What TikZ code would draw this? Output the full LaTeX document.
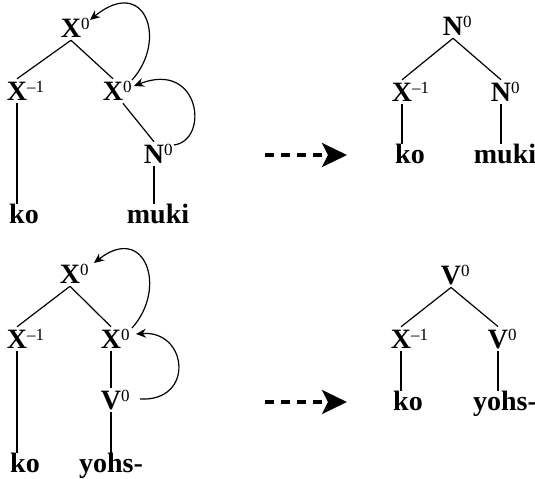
\documentclass[tikz,border=0pt]{standalone}
\usepackage{fontspec}
\setmainfont{Liberation Serif}
\usetikzlibrary{arrows.meta,calc}
\tikzset{
  cat/.style={font=\bfseries\fontsize{14}{16}\selectfont, inner sep=1pt},
  word/.style={font=\bfseries\fontsize{14}{16}\selectfont, inner sep=1pt, text height=8.5pt, anchor=base},
  branch/.style={line width=0.6pt},
  move/.style={line width=0.6pt, -{Stealth[length=5pt,width=4.5pt]}},
  bigarrow/.style={line width=1.6pt, dash pattern=on 4.5pt off 3.5pt, -{Stealth[length=12.5pt,width=12pt,inset=3pt]}}
}
\newcommand{\supr}[1]{\rlap{\raisebox{4.2pt}{\fontsize{8.5}{9}\selectfont\mdseries #1}}}
\newcommand{\catX}[1]{X\supr{#1}}
\newcommand{\catN}[1]{N\supr{#1}}
\newcommand{\catV}[1]{V\supr{#1}}
\begin{document}
\begin{tikzpicture}[x=0.5pt,y=-0.5pt]
\useasboundingbox (0,0) rectangle (535,478);
% ---------- top left tree ----------
\node[cat] (tlr) at (71,28) {\catX{0}};
\node[cat] (tll) at (17,91) {\catX{–1}};
\node[cat] (tlm) at (113,91) {\catX{0}};
\node[cat] (tln) at (154,154) {\catN{0}};
\node[word] (tlko) at (24,223) {ko};
\node[word] (tlmuki) at (158,223) {muki};
\draw[branch] (tlr.south) -- (tll.north);
\draw[branch] (tlr.south) -- (tlm.north);
\draw[branch] (tlm) -- (tln.north);
\draw[branch] (tll.south) -- (tll.south |- tlko.north);
\draw[branch] (tln.south) -- (tln.south |- tlmuki.north);
\coordinate (a1s) at ($(tlm)+(19,-11)$);
\coordinate (a1e) at ($(tlr)+(19,-8)$);
\coordinate (a2s) at ($(tln)+(20,-9)$);
\coordinate (a2e) at ($(tlm)+(21,-5)$);
\draw[move] (a1s) .. controls (168,40) and (145,-25) .. (a1e);
\draw[move] (a2s) .. controls (210,140) and (200,60) .. (a2e);
% ---------- bottom left tree ----------
\node[cat] (blr) at (70,274) {\catX{0}};
\node[cat] (bll) at (17,339) {\catX{–1}};
\node[cat] (blm) at (111,339) {\catX{0}};
\node[cat] (blv) at (111,400) {\catV{0}};
\node[word] (blko) at (25,472) {ko};
\node[word] (blyohs) at (111,472) {yohs-};
\draw[branch] (blr.south) -- (bll.north);
\draw[branch] (blr.south) -- (blm.north);
\draw[branch] (blm.south) -- (blm.south |- blv.north);
\draw[branch] (bll.south) -- (bll.south |- blko.north);
\draw[branch] (blv.south) -- (blv.south |- blyohs.north);
\coordinate (a3s) at ($(blm)+(21,-11)$);
\coordinate (a3e) at ($(blr)+(24,-11)$);
\coordinate (a4s) at ($(blv)+(29,-1)$);
\coordinate (a4e) at ($(blm)+(25,-5)$);
\draw[move] (a3s) .. controls (168,288) and (145,223) .. (a3e);
\draw[move] (a4s) .. controls (195,402) and (188,330) .. (a4e);
% ---------- arrows ----------
\coordinate (b1s) at (265,155);
\coordinate (b1e) at (347,155);
\coordinate (b2s) at (265,402);
\coordinate (b2e) at (347,402);
\draw[bigarrow] (b1s) -- (b1e);
\draw[bigarrow] (b2s) -- (b2e);
% ---------- top right tree ----------
\node[cat] (trr) at (453,26) {\catN{0}};
\node[cat] (trl) at (402,92) {\catX{–1}};
\node[cat] (trn) at (501,92) {\catN{0}};
\node[word] (trko) at (410,163) {ko};
\node[word] (trmuki) at (505,163) {muki};
\draw[branch] (trr.south) -- (trl.north);
\draw[branch] (trr.south) -- (trn.north);
\draw[branch] (trl.south) -- (trl.south |- trko.north);
\draw[branch] (trn.south) -- (trn.south |- trmuki.north);
% ---------- bottom right tree ----------
\node[cat] (brr) at (451,275) {\catV{0}};
\node[cat] (brl) at (401,339) {\catX{–1}};
\node[cat] (brv) at (498,339) {\catV{0}};
\node[word] (brko) at (408,410) {ko};
\node[word] (bryohs) at (505,410) {yohs-};
\draw[branch] (brr.south) -- (brl.north);
\draw[branch] (brr.south) -- (brv.north);
\draw[branch] (brl.south) -- (brl.south |- brko.north);
\draw[branch] (brv.south) -- (brv.south |- bryohs.north);
\end{tikzpicture}
\end{document}
